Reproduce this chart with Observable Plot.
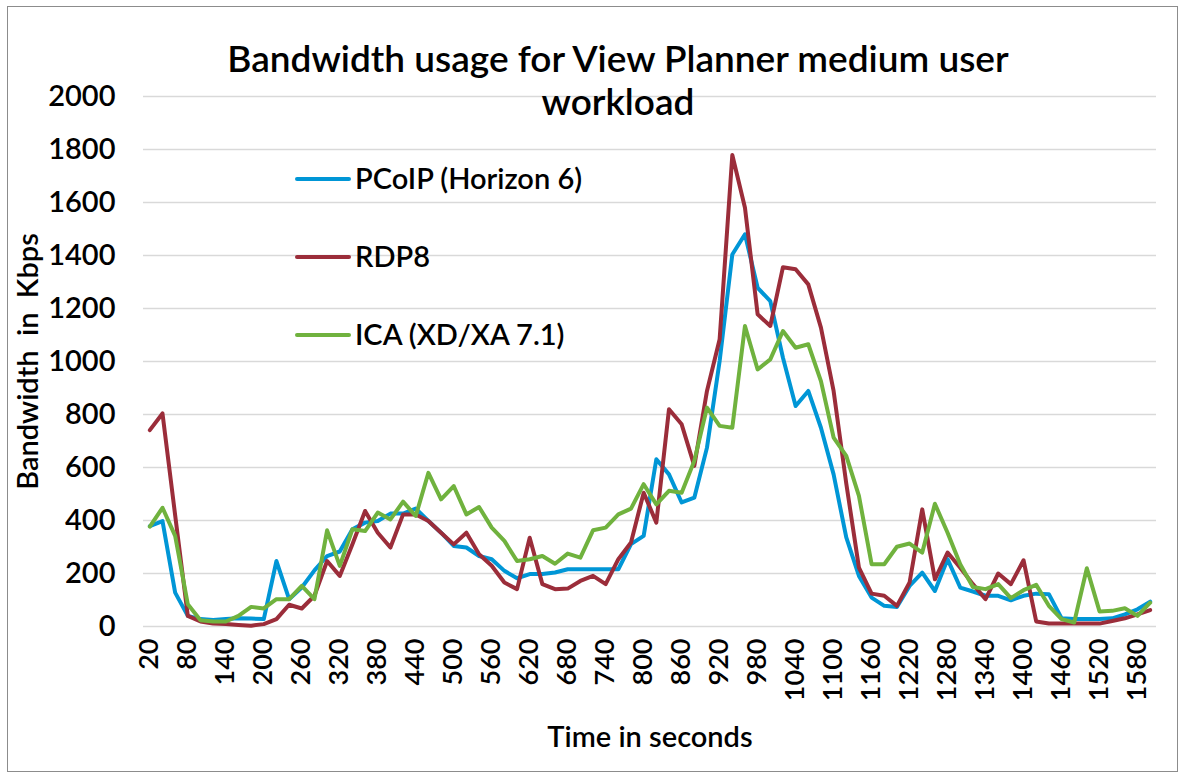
<!DOCTYPE html>
<html><head><meta charset="utf-8">
<script src="https://cdn.jsdelivr.net/npm/d3@7"></script>
<script src="https://cdn.jsdelivr.net/npm/@observablehq/plot@0.6"></script>
<style>
body{margin:0;background:#fff;}
#wrap{position:relative;width:1182px;height:774px;font-family:Lato,"Open Sans",sans-serif;color:#000;overflow:hidden;}
#border{position:absolute;left:7px;top:6px;width:1171px;height:766px;border:1px solid #8c8c8c;box-sizing:border-box;pointer-events:none;}
#title{position:absolute;left:168px;top:36px;width:900px;text-align:center;font-size:37px;line-height:43px;font-weight:600;}
.leg{position:absolute;left:295px;height:30px;font-size:29px;line-height:30px;white-space:nowrap;font-weight:600;}
.leg span.sw{display:inline-block;width:56px;height:4px;border-radius:2px;vertical-align:middle;margin-right:4px;position:relative;top:-3px;}
#chart{position:absolute;left:0;top:0;}
#chart svg text{font-weight:600;}
</style></head>
<body>
<div id="wrap">
  <div id="chart"></div>
  <div id="title">Bandwidth usage for View Planner medium user<br>workload</div>
  <div id="legend"></div>
  <div id="border"></div>
</div>
<script>
const times = [20,40,60,80,100,120,140,160,180,200,220,240,260,280,300,320,340,360,380,400,
  420,440,460,480,500,520,540,560,580,600,620,640,660,680,700,720,740,760,780,800,
  820,840,860,880,900,920,940,960,980,1000,1020,1040,1060,1080,1100,1120,1140,1160,1180,1200,
  1220,1240,1260,1280,1300,1320,1340,1360,1380,1400,1420,1440,1460,1480,1500,1520,1540,1560,1580,1600];

const pcoip = [379,398,128,40,28,25,28,31,30,28,247,103,147,212,266,283,367,392,398,426,
  426,445,398,354,304,298,266,254,210,182,198,198,204,216,216,216,216,216,311,342,
  631,574,468,486,675,1002,1404,1480,1278,1228,1014,832,889,750,574,336,191,109,78,74,
  153,203,134,254,147,132,116,116,99,116,124,122,31,28,28,28,31,46,65,94];

const rdp8 = [741,804,420,40,19,11,9,6,3,9,28,82,68,116,247,191,310,436,354,298,
  423,423,398,354,310,354,273,229,166,141,335,160,141,143,172,191,160,254,317,505,
  392,820,763,606,889,1084,1779,1580,1178,1134,1356,1348,1291,1128,889,540,222,124,116,78,
  166,442,178,279,222,160,103,200,160,250,19,11,11,11,11,11,21,31,46,62];

const ica = [377,448,342,84,24,19,19,40,74,68,103,103,153,103,363,229,367,360,430,404,
  471,417,580,480,530,423,451,373,323,247,254,266,237,275,260,363,373,423,445,537,
  461,512,505,625,826,757,750,1134,970,1008,1115,1052,1065,926,713,644,493,235,235,301,
  313,279,463,354,235,149,141,160,107,137,157,78,28,15,220,57,59,69,40,90];

const seriesNames = ["PCoIP (Horizon 6)", "RDP8", "ICA (XD/XA 7.1)"];
const seriesColors = ["#0096d6", "#9b2d3a", "#70b23e"];
const xTickLabels = [20,80,140,200,260,320,380,440,500,560,620,680,740,800,860,920,980,1040,1100,1160,1220,1280,1340,1400,1460,1520,1580];
const yTickLabels = [0,200,400,600,800,1000,1200,1400,1600,1800,2000];

const seriesValues = [pcoip, rdp8, ica];
const rows = [];
seriesValues.forEach((vals, s) => vals.forEach((v, i) => rows.push({t: times[i], v, s: seriesNames[s]})));

const lineMarks = seriesNames.map((name, s) =>
  Plot.line(rows.filter(r => r.s === name), {
    x: "t", y: "v", stroke: seriesColors[s], strokeWidth: 4,
    strokeLinejoin: "round", strokeLinecap: "round"
  })
);

const chart = Plot.plot({
  width: 1182, height: 774,
  marginLeft: 143, marginRight: 26, marginTop: 96, marginBottom: 148,
  style: {fontFamily: "Lato, 'Open Sans', sans-serif", background: "transparent", color: "#000", overflow: "visible"},
  x: {type: "point", domain: times, padding: 0.5},
  y: {domain: [0, 2000]},
  marks: [
    Plot.ruleY(yTickLabels, {stroke: "#d9d9d9", strokeWidth: 1.6}),
    ...lineMarks,
    Plot.axisY({ticks: yTickLabels, tickFormat: d => String(d), tickSize: 0, tickPadding: 28, fontSize: 29,
      label: "Bandwidth  in  Kbps", labelAnchor: "center", labelOffset: 126, labelArrow: "none"}),
    Plot.axisX({ticks: xTickLabels, tickFormat: d => String(d), tickSize: 0, tickPadding: 12, tickRotate: -90, fontSize: 27,
      label: "Time in seconds", labelAnchor: "center", labelOffset: 120, labelArrow: "none"})
  ]
});
document.getElementById("chart").appendChild(chart);
chart.querySelectorAll("g[aria-label='y-axis label'] text, g[aria-label='x-axis label'] text").forEach(t => t.setAttribute("font-size", "29"));

const legendTops = [163, 241, 319];
const legend = document.getElementById("legend");
seriesNames.forEach((name, s) => {
  const d = document.createElement("div");
  d.className = "leg";
  d.style.top = legendTops[s] + "px";
  d.innerHTML = `<span class="sw" style="background:${seriesColors[s]}"></span>${name}`;
  legend.appendChild(d);
});
</script>
</body></html>
